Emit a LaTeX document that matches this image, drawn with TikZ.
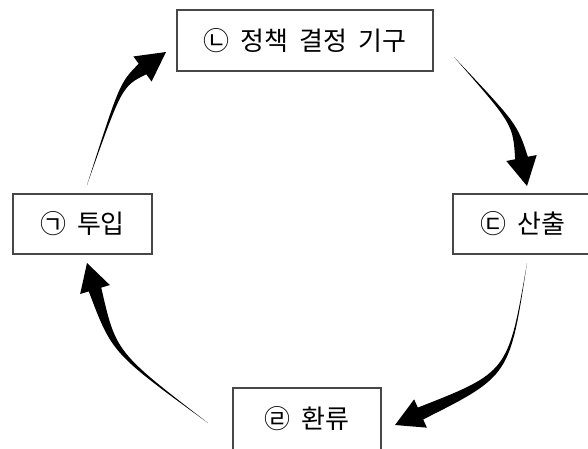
\documentclass[tikz,border=0pt]{standalone}
\usepackage{fontspec}
\setmainfont{Noto Sans CJK KR}
\usetikzlibrary{calc}
\newcommand\taperarrow[4]{%
  \fill[black] (#1) .. controls ($(#2)+($(#3)!2pt!90:(#4)$)-(#3)$) .. ($(#3)!6.5pt!90:(#4)$)
    -- ($(#3)!15.5pt!90:(#4)$) -- (#4) -- ($(#3)!15.5pt!-90:(#4)$)
    -- ($(#3)!6.5pt!-90:(#4)$) .. controls ($(#2)+($(#3)!2pt!-90:(#4)$)-(#3)$) .. (#1) -- cycle;}
\newcommand\gap{\hspace{0.42em}}
\begin{document}
\begin{tikzpicture}[x=1pt,y=-1pt,
  box/.style={draw=black!72, line width=1.3pt, inner sep=0pt,
    font=\fontsize{26}{30}\selectfont}]
\useasboundingbox (0,0) rectangle (588,448);
\clip (0,0) rectangle (588,448);
\fill[white] (0,0) rectangle (588,448);
% boxes
\node[box, minimum width=256pt, minimum height=61pt] (n2) at (305,40.5) {㉡\gap 정책\gap 결정\gap 기구};
\node[box, minimum width=139pt, minimum height=60pt] (n1) at (82.5,224) {㉠\gap 투입};
\node[box, minimum width=140pt, minimum height=60pt] (n3) at (523,224) {㉢\gap 산출};
\node[box, minimum width=148pt, minimum height=64pt] (n4) at (307,420) {\raisebox{5pt}{㉣\gap 환류}};
% arrow 1: input -> policy
\coordinate (a1s) at (87,185);
\coordinate (a1c) at (120.8,84.7);
\coordinate (a1m) at (142.5,69);
\coordinate (a1t) at (166,52);
\taperarrow{a1s}{a1c}{a1m}{a1t}
% arrow 2: policy -> output
\coordinate (a2s) at (454,57);
\coordinate (a2c) at (515,124);
\coordinate (a2m) at (521.5,158);
\coordinate (a2t) at (527,186);
\taperarrow{a2s}{a2c}{a2m}{a2t}
% arrow 3: output -> feedback
\coordinate (a3s) at (527,263);
\coordinate (a3c) at (509,374);
\coordinate (a3m) at (420.5,413.5);
\coordinate (a3t) at (395,425);
\taperarrow{a3s}{a3c}{a3m}{a3t}
% arrow 4: feedback -> input
\coordinate (a4s) at (208,423);
\coordinate (a4c) at (114,352.6);
\coordinate (a4m) at (95,289.5);
\coordinate (a4t) at (87,263);
\taperarrow{a4s}{a4c}{a4m}{a4t}
\end{tikzpicture}
\end{document}
